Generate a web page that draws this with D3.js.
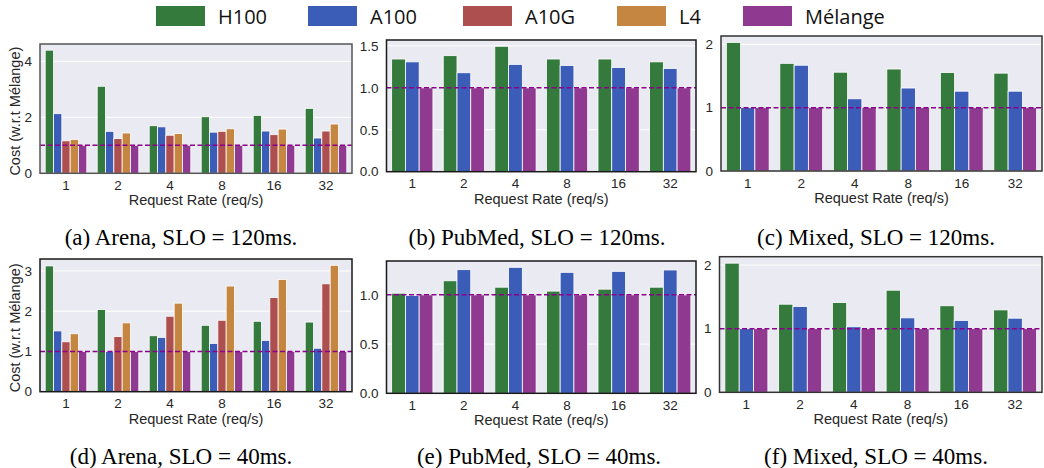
<!DOCTYPE html>
<html>
<head>
<meta charset="utf-8">
<script src="https://cdn.jsdelivr.net/npm/d3@7"></script>
<style>
body { margin: 0; background: #fff; }
text { fill: #262626; }
</style>
</head>
<body>
<div id="chart"></div>
<script>
var outerW = 1044,
	outerH = 468;

// Categories + series
var rates = ["1", "2", "4", "8", "16", "32"];
var gpus5 = ["H100", "A100", "A10G", "L4", "Mélange"];
var gpus3 = ["H100", "A100", "Mélange"];
var gpuColors = {
	"H100": "#357a3d",
	"A100": "#3b5db8",
	"A10G": "#ad4f4f",
	"L4": "#c48641",
	"Mélange": "#8f3990"
};

// Cost w.r.t Mélange, one array per GPU, in rates order
var arena120 = [
	[4.40, 3.11, 1.70, 2.02, 2.07, 2.32],
	[2.13, 1.50, 1.66, 1.47, 1.51, 1.26],
	[1.16, 1.24, 1.36, 1.50, 1.38, 1.51],
	[1.21, 1.44, 1.42, 1.59, 1.58, 1.76],
	[1.00, 1.00, 1.00, 1.00, 1.00, 1.00]
];
var pubmed120 = [
	[1.344, 1.384, 1.496, 1.344, 1.344, 1.310],
	[1.310, 1.180, 1.280, 1.268, 1.244, 1.232],
	[1.00, 1.00, 1.00, 1.00, 1.00, 1.00]
];
var mixed120 = [
	[2.03, 1.70, 1.56, 1.61, 1.555, 1.545],
	[1.00, 1.67, 1.14, 1.31, 1.26, 1.26],
	[1.00, 1.00, 1.00, 1.00, 1.00, 1.00]
];
var arena40 = [
	[3.125, 2.04, 1.39, 1.65, 1.75, 1.73],
	[1.51, 1.00, 1.35, 1.20, 1.275, 1.08],
	[1.24, 1.37, 1.875, 1.775, 2.34, 2.68],
	[1.44, 1.71, 2.20, 2.625, 2.79, 3.14],
	[1.00, 1.00, 1.00, 1.00, 1.00, 1.00]
];
var pubmed40 = [
	[1.017, 1.143, 1.078, 1.038, 1.058, 1.078],
	[0.995, 1.256, 1.280, 1.229, 1.239, 1.253],
	[1.00, 1.00, 1.00, 1.00, 1.00, 1.00]
];
var mixed40 = [
	[2.03, 1.385, 1.41, 1.605, 1.36, 1.295],
	[1.00, 1.35, 1.03, 1.17, 1.13, 1.165],
	[1.00, 1.00, 1.00, 1.00, 1.00, 1.00]
];

// Tick labels
var ticksArena120 = [0, 2, 4];
var ticksPubmed120 = [0, 0.5, 1.0, 1.5];
var ticksMixed120 = [0, 1, 2];
var ticksArena40 = [0, 1, 2, 3];
var ticksPubmed40 = [0, 0.5, 1.0];
var ticksMixed40 = [0, 1, 2];

var captions = [
	"(a) Arena, SLO = 120ms.",
	"(b) PubMed, SLO = 120ms.",
	"(c) Mixed, SLO = 120ms.",
	"(d) Arena, SLO = 40ms.",
	"(e) PubMed, SLO = 40ms.",
	"(f) Mixed, SLO = 40ms."
];

// Layout of each subplot
var panels = [
	{data: arena120, gpus: gpus5, ticks: ticksArena120, fmt: "d", box: [40, 352, 44, 173.3], ylabel: true, cap: [181, 245], frame: "#555"},
	{data: pubmed120, gpus: gpus3, ticks: ticksPubmed120, fmt: ".1f", box: [386.5, 696, 40, 171.7], ylabel: false, cap: [537, 245], frame: "#1a1a1a"},
	{data: mixed120, gpus: gpus3, ticks: ticksMixed120, fmt: "d", box: [721, 1042, 36, 171], ylabel: false, cap: [876, 245], frame: "#333"},
	{data: arena40, gpus: gpus5, ticks: ticksArena40, fmt: "d", box: [40, 352, 259, 391.7], ylabel: true, cap: [181, 464], frame: "#1a1a1a"},
	{data: pubmed40, gpus: gpus3, ticks: ticksPubmed40, fmt: ".1f", box: [386.5, 696, 261, 393.3], ylabel: false, cap: [539, 464], frame: "#1a1a1a"},
	{data: mixed40, gpus: gpus3, ticks: ticksMixed40, fmt: "d", box: [719.5, 1042, 256.7, 392.3], ylabel: false, cap: [876, 464], frame: "#333"}
];

var svg = d3.select("#chart")
	.append("svg")
	.attr("width", outerW)
	.attr("height", outerH)
	.style("font-family", "'Liberation Sans', Arial, sans-serif");

panels.forEach(function(p, idx) {
	var left = p.box[0], right = p.box[1], top = p.box[2], bottom = p.box[3];
	var g = svg.append("g");

	var x = d3.scaleBand()
		.domain(rates)
		.range([left, right])
		.padding(0);
	var hue = d3.scaleBand()
		.domain(p.gpus)
		.range([0.1 * x.bandwidth(), 0.9 * x.bandwidth()]);
	// seaborn style: 5% headroom above tallest bar
	var yMax = d3.max(p.data, function(s) { return d3.max(s); }) * 1.05;
	var y = d3.scaleLinear()
		.domain([0, yMax])
		.range([bottom, top]);

	// background
	g.append("rect")
		.attr("x", left)
		.attr("y", top)
		.attr("width", right - left)
		.attr("height", bottom - top)
		.attr("fill", "#eaeaf2");

	// grid
	g.selectAll(".grid")
		.data(p.ticks)
		.enter()
		.append("line")
		.attr("x1", left)
		.attr("x2", right)
		.attr("y1", function(d) { return y(d); })
		.attr("y2", function(d) { return y(d); })
		.attr("stroke", "#fff")
		.attr("stroke-width", 1);

	// bars
	p.gpus.forEach(function(gpu, k) {
		g.selectAll(".bar" + k)
			.data(p.data[k])
			.enter()
			.append("rect")
			.attr("x", function(d, i) { return x(rates[i]) + hue(gpu); })
			.attr("y", function(d) { return y(d); })
			.attr("width", hue.bandwidth())
			.attr("height", function(d) { return y(0) - y(d); })
			.attr("fill", gpuColors[gpu])
			.attr("stroke", "#fff")
			.attr("stroke-width", 0.8);
	});

	// Mélange reference line
	g.append("line")
		.attr("x1", left)
		.attr("x2", right)
		.attr("y1", y(1))
		.attr("y2", y(1))
		.attr("stroke", "#8b008b")
		.attr("stroke-width", 1.5)
		.attr("stroke-dasharray", "5,2.5");

	// frame
	g.append("rect")
		.attr("x", left)
		.attr("y", top)
		.attr("width", right - left)
		.attr("height", bottom - top)
		.attr("fill", "none")
		.attr("stroke", p.frame)
		.attr("stroke-width", 1.5);

	// y ticks
	g.selectAll(".ytick")
		.data(p.ticks)
		.enter()
		.append("text")
		.attr("x", left - 8)
		.attr("y", function(d) { return y(d); })
		.attr("dy", "0.35em")
		.attr("text-anchor", "end")
		.style("font-size", "13.5px")
		.text(function(d) { return d3.format(p.fmt)(d); });

	// x ticks
	g.selectAll(".xtick")
		.data(rates)
		.enter()
		.append("text")
		.attr("x", function(d) { return x(d) + x.bandwidth() / 2; })
		.attr("y", bottom + 16.5)
		.attr("text-anchor", "middle")
		.style("font-size", "13.5px")
		.text(function(d) { return d; });

	g.append("text")
		.attr("x", (left + right) / 2)
		.attr("y", bottom + 32)
		.attr("text-anchor", "middle")
		.style("font-size", "14.5px")
		.text("Request Rate (req/s)");

	if (p.ylabel) {
		g.append("text")
			.attr("transform", "translate(20," + ((top + bottom) / 2 + 2.5) + ") rotate(-90)")
			.attr("text-anchor", "middle")
			.style("font-size", "14.5px")
			.text("Cost (w.r.t Mélange)");
	}

	g.append("text")
		.attr("x", p.cap[0])
		.attr("y", p.cap[1])
		.attr("text-anchor", "middle")
		.style("font-family", "'Liberation Serif', 'Times New Roman', serif")
		.style("font-size", "23px")
		.style("fill", "#000")
		.text(captions[idx]);
});

/********************************************************************
 * Legend
 ********************************************************************/
var legendX = [156, 308, 463, 617, 743];
var legend = svg.append("g");
gpus5.forEach(function(gpu, i) {
	legend.append("rect")
		.attr("x", legendX[i])
		.attr("y", 6)
		.attr("width", 49)
		.attr("height", 20)
		.attr("fill", gpuColors[gpu]);
	legend.append("text")
		.attr("x", legendX[i] + 62)
		.attr("y", 24)
		.style("font-family", "'Open Sans', sans-serif")
		.style("font-size", "20px")
		.style("fill", "#111")
		.text(gpu);
});
</script>
</body>
</html>
